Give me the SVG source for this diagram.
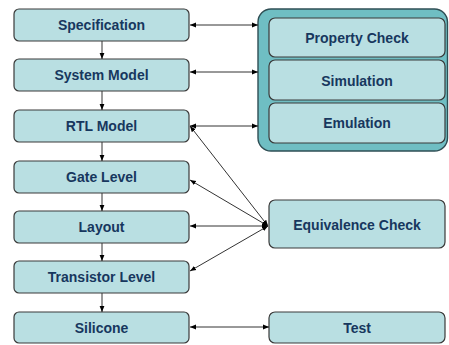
<svg xmlns="http://www.w3.org/2000/svg" width="449" height="345" viewBox="0 0 449 345">
<defs>
<marker id="ah" viewBox="0 0 10 10" refX="10" refY="5" markerWidth="6" markerHeight="6" orient="auto-start-reverse" markerUnits="userSpaceOnUse">
<path d="M0,1 L10,5 L0,9 z" fill="#000"/>
</marker>
<style>
.box{fill:#B9DFE2;stroke:#3a3a3a;stroke-width:1.2}
.cont{fill:#6FBEC3;stroke:#2f4f55;stroke-width:1.4}
.lbl{font-family:"Liberation Sans",Arial,sans-serif;font-weight:bold;font-size:14px;fill:#17375E;text-anchor:middle}
.ln{stroke:#333;stroke-width:1;fill:none}
</style>
</defs>
<rect width="449" height="345" fill="#fff"/>
<g id="verification">
<rect class="cont" x="258" y="9" width="189.5" height="142" rx="13"/>
</g>
<g id="spec"><rect class="box" x="14" y="9" width="175" height="32" rx="5"/><text class="lbl" x="101.5" y="30">Specification</text></g>
<g id="system"><rect class="box" x="14" y="59" width="175" height="32" rx="5"/><text class="lbl" x="101.5" y="80">System Model</text></g>
<g id="rtl"><rect class="box" x="14" y="110" width="175" height="32" rx="5"/><text class="lbl" x="101.5" y="131">RTL Model</text></g>
<g id="gate"><rect class="box" x="14" y="161" width="175" height="32" rx="5"/><text class="lbl" x="101.5" y="182">Gate Level</text></g>
<g id="layout"><rect class="box" x="14" y="211" width="175" height="32" rx="5"/><text class="lbl" x="101.5" y="232">Layout</text></g>
<g id="transistor"><rect class="box" x="14" y="261" width="175" height="32" rx="5"/><text class="lbl" x="101.5" y="282">Transistor Level</text></g>
<g id="silicone"><rect class="box" x="14" y="312" width="175" height="31" rx="5"/><text class="lbl" x="101.5" y="333">Silicone</text></g>
<g id="property"><rect class="box" x="269" y="18" width="176" height="39" rx="6"/><text class="lbl" x="357" y="43">Property Check</text></g>
<g id="simulation"><rect class="box" x="269" y="60" width="176" height="40" rx="6"/><text class="lbl" x="357" y="86">Simulation</text></g>
<g id="emulation"><rect class="box" x="269" y="103" width="176" height="40" rx="6"/><text class="lbl" x="357" y="128">Emulation</text></g>
<g id="equiv"><rect class="box" x="269" y="200" width="176" height="48" rx="6"/><text class="lbl" x="357" y="230">Equivalence Check</text></g>
<g id="test"><rect class="box" x="269" y="312" width="176" height="31" rx="6"/><text class="lbl" x="357" y="333">Test</text></g>
<g id="connectors">
<line class="ln" x1="102" y1="41" x2="102" y2="59" marker-end="url(#ah)"/>
<line class="ln" x1="102" y1="91" x2="102" y2="110" marker-end="url(#ah)"/>
<line class="ln" x1="102" y1="142" x2="102" y2="161" marker-end="url(#ah)"/>
<line class="ln" x1="102" y1="193" x2="102" y2="211" marker-end="url(#ah)"/>
<line class="ln" x1="102" y1="243" x2="102" y2="261" marker-end="url(#ah)"/>
<line class="ln" x1="102" y1="293" x2="102" y2="312" marker-end="url(#ah)"/>
<line class="ln" x1="190" y1="25" x2="258" y2="25" marker-start="url(#ah)" marker-end="url(#ah)"/>
<line class="ln" x1="190" y1="72" x2="258" y2="72" marker-start="url(#ah)" marker-end="url(#ah)"/>
<line class="ln" x1="190" y1="126" x2="258" y2="126" marker-start="url(#ah)" marker-end="url(#ah)"/>
<line class="ln" x1="190" y1="327" x2="269" y2="327" marker-start="url(#ah)" marker-end="url(#ah)"/>
<line class="ln" x1="190" y1="126" x2="268" y2="226" marker-start="url(#ah)" marker-end="url(#ah)"/>
<line class="ln" x1="190" y1="180" x2="268" y2="226" marker-start="url(#ah)" marker-end="url(#ah)"/>
<line class="ln" x1="190" y1="226" x2="268" y2="226" marker-start="url(#ah)" marker-end="url(#ah)"/>
<line class="ln" x1="190" y1="271" x2="268" y2="226" marker-start="url(#ah)" marker-end="url(#ah)"/>
</g>
</svg>
